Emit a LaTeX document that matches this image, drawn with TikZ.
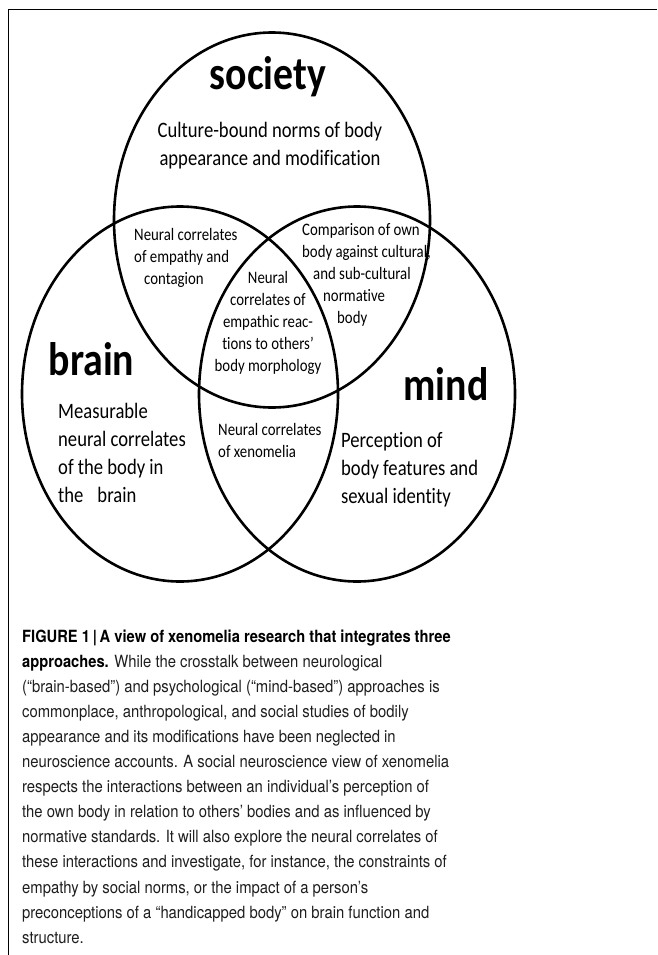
\documentclass[tikz,border=0pt]{standalone}
\usepackage{fontspec}
\setmainfont{TeX Gyre Heros}
\newfontfamily\calfont[FakeStretch=0.847,RawFeature={-liga;-clig;-dlig;-calt}]{Carlito}
\newfontfamily\capfont[FakeStretch=0.883]{TeX Gyre Heros}
\newfontfamily\capboldfont[FakeStretch=0.875]{TeX Gyre Heros}
\definecolor{captext}{HTML}{1E1E1E}
\newcommand\blk[2]{\begin{tabular}[t]{@{}#1@{}}#2\end{tabular}}
\newcommand\capb[1]{{\capboldfont\bfseries\color{black}#1}}
\tikzset{
  venn/.style={line width=2.6pt, draw=black},
  frame/.style={line width=1pt, draw=black},
  title/.style={font=\calfont\bfseries\fontsize{47}{56}\selectfont, inner sep=0pt, anchor=base},
  bigtext/.style={font=\calfont\fontsize{22}{28.3}\selectfont, inner sep=0pt, anchor=base west},
  smalltext/.style={font=\calfont\fontsize{17.5}{22}\selectfont, inner sep=0pt, anchor=base west},
  captiontext/.style={font=\capfont\fontsize{16.8}{25.1}\selectfont, text=captext, inner sep=0pt, anchor=base west}
}
\begin{document}
\begin{tikzpicture}[x=1pt,y=-1pt]
\useasboundingbox (0,0) rectangle (657,955);
% frame
\coordinate (fbl) at (8,955);
\coordinate (ftl) at (8,9.5);
\coordinate (ftr) at (657,9.5);
\draw[frame] (fbl) -- (ftl) -- (ftr);
% circles
\coordinate (cs) at (272,220);
\coordinate (cb) at (180,394);
\coordinate (cm) at (357,394);
\draw[venn] (cs) ellipse [x radius=158, y radius=187.5];
\draw[venn] (cb) ellipse [x radius=158, y radius=187.5];
\draw[venn] (cm) ellipse [x radius=158, y radius=187.5];
% titles
\node[title] (soc) at (268,90) {society};
\node[title] (brn) at (91.5,375) {brain};
\node[title] (mnd) at (446,400) {mind};
% texts
\node[bigtext, anchor=base] (socT) at (270,137) {\blk{c}{Culture-bound norms of body\\appearance and modification}};
\node[bigtext] (brnT) at (58,418) {\blk{l}{Measurable\\neural correlates\\of the body in\\the\hspace{14pt}brain}};
\node[bigtext] (mndT) at (341,447) {\blk{l}{Perception of\\body features and\\sexual identity}};
\node[smalltext] (bm) at (218,435) {\blk{l}{Neural correlates\\of xenomelia}};
\node[smalltext] (bs) at (134,240) {\blk{l}{Neural correlates\\of empathy and\\\hspace*{10pt}contagion}};
\node[smalltext, anchor=base] (all) at (268,283) {\blk{c}{Neural\\correlates of\\empathic reac-\\tions to others’\\body morphology}};
\node[smalltext] (sm) at (302,235) {\blk{l}{Comparison of own\\body against cultural,\\\hspace*{11pt}and sub-cultural\\\hspace*{21pt}normative\\\hspace*{35pt}body}};
% caption
\node[captiontext] (cap) at (22,642) {\blk{l}{%
\capb{FIGURE 1\,|\,A view of xenomelia research that integrates three}\\
\capb{approaches.} While the crosstalk between neurological\\
(“brain-based”) and psychological (“mind-based”) approaches is\\
commonplace, anthropological, and social studies of bodily\\
appearance and its modifications have been neglected in\\
neuroscience accounts. A social neuroscience view of xenomelia\\
respects the interactions between an individual’s perception of\\
the own body in relation to others’ bodies and as influenced by\\
normative standards. It will also explore the neural correlates of\\
these interactions and investigate, for instance, the constraints of\\
empathy by social norms, or the impact of a person’s\\
preconceptions of a “handicapped body” on brain function and\\
structure.}};
\end{tikzpicture}
\end{document}
